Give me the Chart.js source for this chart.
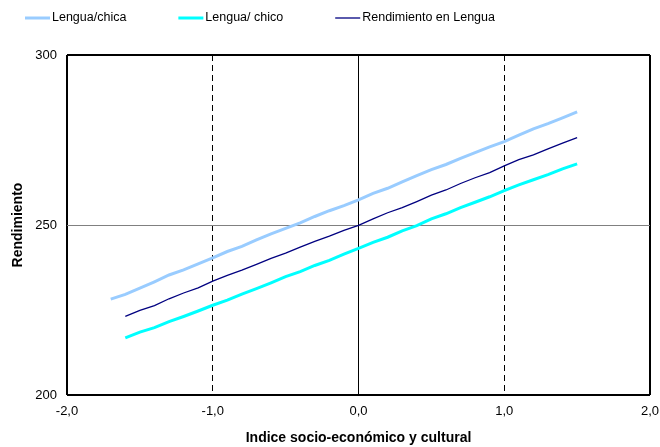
<!DOCTYPE html>
<html>
<head>
<meta charset="utf-8">
<script src="https://cdn.jsdelivr.net/npm/chart.js@4/dist/chart.umd.min.js"></script>
<style>
  html, body { margin: 0; padding: 0; background: #fff; }
  #wrap { width: 660px; height: 447px; }
</style>
</head>
<body>
<div id="wrap"><canvas id="c" width="660" height="447"></canvas></div>
<script>
// ---- data ----
const seriesLabels = ['Lengua/chica', 'Lengua/ chico', 'Rendimiento en Lengua'];

const xChica = [-1.7,-1.6,-1.5,-1.4,-1.3,-1.2,-1.1,-1.0,-0.9,-0.8,-0.7,-0.6,-0.5,-0.4,-0.3,-0.2,-0.1,
                0.0,0.1,0.2,0.3,0.4,0.5,0.6,0.7,0.8,0.9,1.0,1.1,1.2,1.3,1.4,1.5];
const chica  = [228.2,229.6,231.4,233.3,235.3,236.8,238.6,240.3,242.2,243.7,245.6,247.4,249.0,250.6,252.5,254.2,255.7,
                257.4,259.3,260.8,262.7,264.5,266.3,267.8,269.6,271.3,273.0,274.5,276.4,278.3,279.8,281.5,283.3];

const xOther = [-1.6,-1.5,-1.4,-1.3,-1.2,-1.1,-1.0,-0.9,-0.8,-0.7,-0.6,-0.5,-0.4,-0.3,-0.2,-0.1,
                0.0,0.1,0.2,0.3,0.4,0.5,0.6,0.7,0.8,0.9,1.0,1.1,1.2,1.3,1.4,1.5];
const chico  = [216.8,218.5,219.8,221.6,223.1,224.7,226.4,227.9,229.7,231.3,233.0,234.8,236.3,238.1,239.6,241.4,
                243.1,244.9,246.4,248.3,249.8,251.8,253.3,255.1,256.7,258.3,260.1,261.8,263.3,264.8,266.5,268.0];
const rend   = [223.1,224.9,226.3,228.3,230.0,231.5,233.5,235.2,236.7,238.4,240.2,241.7,243.5,245.2,246.7,248.4,
                249.9,251.8,253.6,255.1,256.9,258.8,260.3,262.2,263.9,265.4,267.4,269.2,270.6,272.4,274.1,275.7];

const xTickValues = [-2, -1, 0, 1, 2];
const xTickLabels = ['-2,0', '-1,0', '0,0', '1,0', '2,0'];
const yTickValues = [200, 250, 300];
const yTickLabels = ['200', '250', '300'];

const xTitle = 'Indice socio-económico y cultural';
const yTitle = 'Rendimiento';

// ---- build ----
const toPts = (xs, ys) => xs.map((x, i) => ({ x: x, y: ys[i] }));
const FONT = '"Liberation Sans", Arial, Helvetica, sans-serif';

const legendPlugin = {
  id: 'topLegend',
  afterDraw(chart) {
    const ctx = chart.ctx;
    ctx.save();
    ctx.font = '12.5px ' + FONT;
    ctx.textBaseline = 'middle';
    ctx.textAlign = 'left';
    let x = 25; const y = 18;
    chart.data.datasets.forEach(ds => {
      ctx.strokeStyle = ds.borderColor;
      ctx.lineWidth = ds.borderWidth;
      ctx.beginPath(); ctx.moveTo(x, y); ctx.lineTo(x + 25, y); ctx.stroke();
      ctx.fillStyle = '#000';
      ctx.fillText(ds.label, x + 27, y);
      x += 27 + ctx.measureText(ds.label).width + 52;
    });
    ctx.restore();
  }
};

new Chart(document.getElementById('c'), {
  type: 'scatter',
  data: {
    datasets: [
      { label: seriesLabels[0], data: toPts(xChica, chica), showLine: true, borderColor: '#99CCFF', backgroundColor: '#99CCFF', borderWidth: 3, pointRadius: 0, tension: 0 },
      { label: seriesLabels[1], data: toPts(xOther, chico), showLine: true, borderColor: '#00FFFF', backgroundColor: '#00FFFF', borderWidth: 3, pointRadius: 0, tension: 0 },
      { label: seriesLabels[2], data: toPts(xOther, rend), showLine: true, borderColor: '#000080', backgroundColor: '#000080', borderWidth: 1.3, pointRadius: 0, tension: 0 }
    ]
  },
  options: {
    responsive: false,
    animation: false,
    events: [],
    layout: { padding: { top: 55, left: 4, right: 10, bottom: 0 } },
    plugins: { legend: { display: false }, tooltip: { enabled: false } },
    scales: {
      x: {
        type: 'linear', min: -2, max: 2,
        afterBuildTicks: s => { s.ticks = xTickValues.map(v => ({ value: v })); },
        afterFit: s => { s.height = 52; s.paddingLeft = 0; s.paddingRight = 0; },
        ticks: {
          color: '#000', padding: 9, maxRotation: 0,
          font: { family: FONT, size: 13 },
          callback: (v) => xTickLabels[xTickValues.indexOf(v)]
        },
        border: {
          display: false,
          dash: ctx => (ctx.tick && Math.abs(ctx.tick.value) === 1) ? [6, 4] : []
        },
        grid: {
          drawTicks: false,
          color: '#000',
          lineWidth: ctx => (ctx.tick && Math.abs(ctx.tick.value) === 2) ? 2 : 1
        },
        title: { display: true, text: xTitle, color: '#000', font: { family: FONT, size: 14, weight: 'bold' }, padding: { top: 0, bottom: 0 } }
      },
      y: {
        type: 'linear', min: 200, max: 300,
        afterBuildTicks: s => { s.ticks = yTickValues.map(v => ({ value: v })); },
        afterFit: s => { s.width = 63; s.paddingTop = 0; s.paddingBottom = 0; },
        ticks: {
          color: '#000', padding: 10,
          font: { family: FONT, size: 13 },
          callback: (v) => yTickLabels[yTickValues.indexOf(v)]
        },
        border: { display: false },
        grid: {
          drawTicks: false,
          color: ctx => (ctx.tick && ctx.tick.value === 250) ? '#808080' : '#000',
          lineWidth: ctx => (ctx.tick && ctx.tick.value === 250) ? 1 : 2
        },
        title: { display: true, text: yTitle, color: '#000', font: { family: FONT, size: 14, weight: 'bold' }, padding: { top: 6, bottom: 0 } }
      }
    }
  },
  plugins: [legendPlugin]
});
</script>
</body>
</html>
